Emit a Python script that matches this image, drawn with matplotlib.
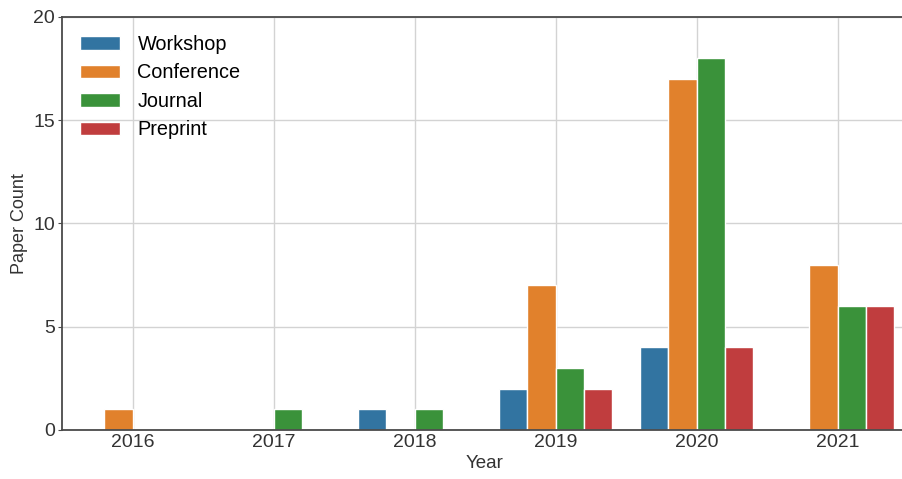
import numpy as np
import matplotlib.pyplot as plt

years = ['2016', '2017', '2018', '2019', '2020', '2021']
venues = ['Workshop', 'Conference', 'Journal', 'Preprint']
workshop = [0, 0, 1, 2, 4, 0]
conference = [1, 0, 0, 7, 17, 8]
journal = [0, 1, 1, 3, 18, 6]
preprint = [0, 0, 0, 2, 4, 6]

counts = [workshop, conference, journal, preprint]
colors = ['#3274a1', '#e1812c', '#3a923a', '#c03d3e']

plt.rcParams['font.family'] = ['Liberation Sans', 'DejaVu Sans']

fig = plt.figure(figsize=(9.02, 4.79), dpi=100)
ax = fig.add_axes([62 / 902, 49 / 479, 846 / 902, 413 / 479])

x = np.arange(len(years))
bar_width = 0.2
for i, vals in enumerate(counts):
    ax.bar(x - 0.3 + i * bar_width, vals, width=bar_width, color=colors[i],
           edgecolor='white', linewidth=1, label=venues[i], zorder=2)

ax.set_xticks(x)
ax.set_xticklabels(years)
ax.set_xlim(-0.5, 5.5)
ax.set_ylim(0, 20)
ax.set_yticks(np.arange(0, 21, 5))
ax.grid(True, color='#d3d3d3', linewidth=1, zorder=0)
ax.set_axisbelow(True)

for s in ['left', 'bottom', 'top', 'right']:
    ax.spines[s].set_color('#4a4a4a')
    ax.spines[s].set_linewidth(1.3)

ax.tick_params(axis='both', labelsize=14, colors='#333333')
ax.tick_params(axis='x', length=0, pad=3)
ax.tick_params(axis='y', length=3, color='#4a4a4a', pad=2)
ax.set_xlabel('Year', fontsize=13.5, color='#333333', labelpad=3)
ax.set_ylabel('Paper Count', fontsize=13, color='#333333')
ax.yaxis.set_label_coords(-0.04, 0.5)

ax.legend(loc='upper left', frameon=False, fontsize=14.3, handlelength=2.0,
          handleheight=0.7, handletextpad=0.9, labelspacing=0.48,
          borderaxespad=0.5)

fig.savefig('out.png', dpi=100)
